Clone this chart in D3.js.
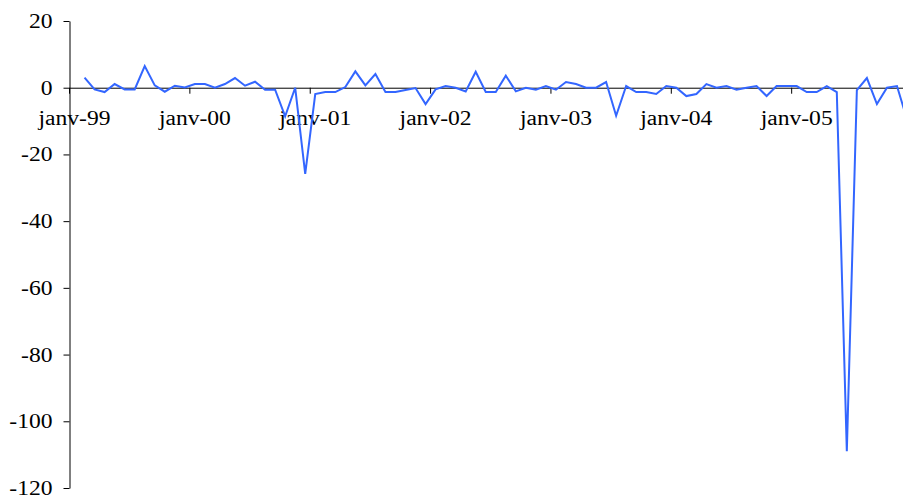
<!DOCTYPE html>
<html>
<head>
<meta charset="utf-8">
<script src="https://cdn.jsdelivr.net/npm/d3@7"></script>
<style>
  html, body { margin: 0; padding: 0; background: #fff; }
  svg { display: block; }
  .axis text { font-family: "Liberation Serif", "Times New Roman", serif; font-size: 20.5px; fill: #000; }
  .axis line, .axis path { stroke: #000; }
</style>
</head>
<body>
<svg id="chart" width="903" height="498"></svg>
<script>
// Monthly series, one row per year (janv. .. déc.); janv-99 has no value.
const values1999 = [null, 3.0, -0.5, -1.3, 1.1, -0.5, -0.5, 6.5, 0.7, -1.2, 0.6, 0.1];
const values2000 = [1.1, 1.1, 0.0, 1.1, 2.9, 0.6, 1.8, -0.6, -0.6, -8.6, 0.0, -25.8];
const values2001 = [-1.9, -1.3, -1.3, 0.2, 4.9, 0.7, 4.1, -1.3, -1.3, -0.7, -0.1, -4.9];
const values2002 = [-0.5, 0.5, 0.0, -1.1, 4.8, -1.3, -1.3, 3.6, -1.1, 0.0, -0.6, 0.5];
const values2003 = [-0.6, 1.7, 1.1, 0.0, 0.0, 1.7, -8.4, 0.5, -1.3, -1.3, -1.9, 0.5];
const values2004 = [0.0, -2.5, -1.9, 1.1, 0.0, 0.5, -0.6, 0.0, 0.5, -2.5, 0.5, 0.5];
const values2005 = [0.5, -1.3, -1.3, 0.5, -1.3, -109.0, -0.7, 2.9, -4.9, 0.0, 0.5, -9.5];

const yearLabels = ["99", "00", "01", "02", "03", "04", "05"];
const monthLabel = "janv";
const yTicks = [20, 0, -20, -40, -60, -80, -100, -120];

(function () {
  const values = [].concat(values1999, values2000, values2001, values2002,
                           values2003, values2004, values2005);
  const monthsPerYear = 12;
  const categories = values.map((v, i) => i);
  const data = categories.map(i => ({ i, v: values[i] }));

  const svg = d3.select("#chart");
  const plotLeft = 69.5, plotTop = 21, plotBottom = 488;
  const step = 10.03;
  const stretch = 1.15; // labels are set slightly wide

  const x = d3.scaleBand()
    .domain(categories)
    .range([plotLeft, plotLeft + categories.length * step])
    .padding(0);
  const bw = x.bandwidth();

  const y = d3.scaleLinear().domain([-120, 20]).range([plotBottom, plotTop]);

  function widen(sel) {
    sel.each(function () {
      const w = this.getComputedTextLength();
      d3.select(this).attr("textLength", w * stretch).attr("lengthAdjust", "spacingAndGlyphs");
    });
  }

  // y axis
  const yAxis = svg.append("g")
    .attr("class", "axis")
    .attr("transform", `translate(${plotLeft},0)`)
    .call(d3.axisLeft(y).tickValues(yTicks).tickSize(6).tickSizeOuter(0).tickPadding(11)
          .tickFormat(d => d));
  yAxis.attr("font-family", null).attr("font-size", null);
  widen(yAxis.selectAll("text"));

  // x axis on the zero line; ticks sit between categories, labels on the category
  const janCats = categories.filter(i => i % monthsPerYear === 0);
  const xAxis = svg.append("g")
    .attr("class", "axis")
    .attr("transform", `translate(0,${y(0)})`)
    .call(d3.axisBottom(x).tickValues(janCats).tickSize(6).tickSizeOuter(0).tickPadding(17)
          .tickFormat(i => `${monthLabel}-${yearLabels[i / monthsPerYear]}`));
  xAxis.attr("font-family", null).attr("font-size", null);
  xAxis.selectAll(".tick line").attr("x1", -bw / 2).attr("x2", -bw / 2);
  widen(xAxis.selectAll("text"));

  // series line
  const line = d3.line()
    .defined(d => d.v !== null)
    .x(d => x(d.i) + bw / 2)
    .y(d => y(d.v));

  svg.append("path")
    .datum(data)
    .attr("fill", "none")
    .attr("stroke", "#3366ff")
    .attr("stroke-width", 2)
    .attr("stroke-linejoin", "miter")
    .attr("d", line);
})();
</script>
</body>
</html>
